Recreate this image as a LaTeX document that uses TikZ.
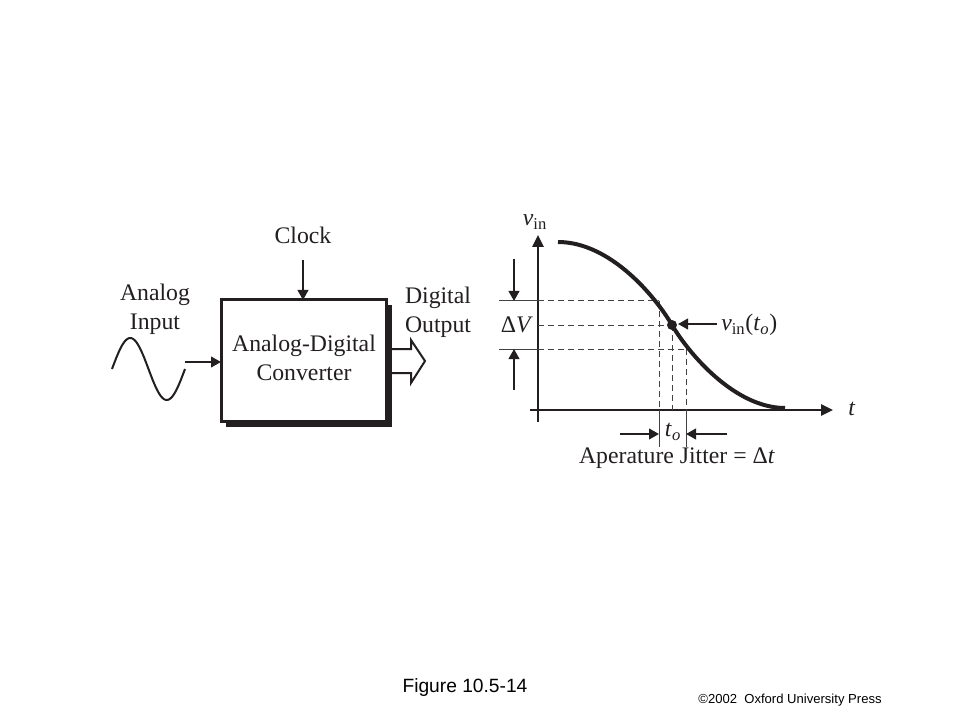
\documentclass[tikz,border=0pt]{standalone}
\usepackage{fontspec}
\setmainfont{Liberation Serif}
\newfontfamily\arialfont{Liberation Sans}
\usetikzlibrary{arrows.meta,positioning,calc}
\definecolor{ink}{RGB}{35,31,32}
\tikzset{
  lbl/.style={font=\fontsize{17.8}{21.5}\selectfont,text=ink,align=center,inner sep=0pt},
  sig/.style={line width=1.5pt,draw=ink,-{Triangle[length=7.5pt,width=8pt]}},
  axis/.style={line width=1.5pt,draw=ink,-{Triangle[length=9pt,width=8.5pt]}},
  guide/.style={line width=0.75pt,draw=ink!85,dash pattern=on 4.5pt off 3pt},
  tick/.style={line width=0.75pt,draw=ink!85},
}

\begin{document}
\begin{tikzpicture}[x=0.75pt,y=-0.75pt,line join=miter]
    \fill[white] (0,0) rectangle (960,720);
    \useasboundingbox (0,0) rectangle (960,720);

        % --- Variables ---
        \coordinate (adc_nw) at (221,300);
        \coordinate (adc_se) at (386,421);
        \coordinate (clock_in) at (303,260);
        \coordinate (adc_top) at (303,300);
        \coordinate (sine_end) at (185,362);
        \coordinate (adc_left) at (221,362);

        % Converter block with its shadow
        \fill[ink] ($(adc_nw)+(5,5)$) rectangle ($(adc_se)+(6,6)$);
        \draw[line width=2.25pt,draw=ink,fill=white] (adc_nw) rectangle (adc_se);
        \node[lbl] (adc) at (304,358) {Analog-Digital\\Converter};

        % Clock input
        \node[lbl] (clock) at (303,235) {Clock};
        \draw[sig] (clock_in) -- (adc_top);

        % Analog input
        \node[lbl] (ain) at (155,309) {Analog\\Input};
        \draw[line width=1.5pt,ink] plot[domain=0:360,samples=60] ({112+\x/360*73},{369-31*sin(\x)});
        \draw[sig] (sine_end) -- (adc_left);

        % Digital output (hollow arrow)
        \node[lbl] (dout) at (438,312) {Digital\\Output};
        \draw[line width=1.5pt,ink] (392,349) -- (411,349) -- (411,340) -- (425,361)
            -- (411,383) -- (411,373) -- (392,373);

        % --- Graph ---
        \coordinate (vaxis_bot) at (538,422);
        \coordinate (vaxis_top) at (538,235);
        \coordinate (taxis_left) at (530,410);
        \coordinate (taxis_right) at (833,410);
        \coordinate (vpt) at (672,325);

        \draw[axis] (vaxis_bot) -- (vaxis_top);
        \draw[axis] (taxis_left) -- (taxis_right);
        \node[lbl] (vin) at (535,222) {\textit{v}\textsubscript{in}};
        \node[lbl] (tlab) at (852,409) {\textit{t}};

        % Guide lines
        \coordinate (vhi) at (659,301);
        \coordinate (vlo) at (686,349);
        \draw[tick] (499,301) -- (538,301);
        \draw[tick] (499,349) -- (538,349);
        \draw[guide] (538,301) -- (vhi);
        \draw[guide] (538,325) -- (vpt);
        \draw[guide] (538,349) -- (vlo);
        \draw[guide] (vhi) -- (659,410);
        \draw[guide] (vpt) -- (672,410);
        \draw[guide] (vlo) -- (686,410);
        \draw[tick] (659,410) -- (659,447);
        \draw[tick] (686,410) -- (686,447);

        % Input signal
        \draw[line width=3pt,ink,line cap=butt] (558,242) .. controls (610,242) and (655,296) .. (vpt)
            .. controls (689,354) and (735,408) .. (785,408);
        \fill[ink] (vpt) circle (3.75pt);

        % Delta V arrows
        \draw[sig] (514,259) -- (514,301);
        \draw[sig] (514,390) -- (514,349);
        \node[lbl] (dv) at (517,325) {Δ\textit{V}};

        % label at sample point
        \coordinate (vpt_lab) at (717,324);
        \draw[sig] (vpt_lab) -- (678,324);
        \node[lbl,anchor=west] (vinto) at (721,325) {\textit{v}\textsubscript{in}(\textit{t}\textsubscript{\textit{o}})};

        % Aperture jitter
        \draw[sig] (620,434) -- (659,434);
        \draw[sig] (727,434) -- (686,434);
        \node[lbl] (to) at (673,432) {\textit{t}\textsubscript{\textit{o}}};
        \node[lbl] (jitter) at (677,458) {Aperature Jitter = Δ\textit{t}};

        % caption
        \node[font=\arialfont\fontsize{14.4}{17}\selectfont] (fig) at (465,688) {Figure 10.5-14};
        \node[font=\arialfont\fontsize{9.8}{12}\selectfont] (press) at (790,700) {©2002~ Oxford University Press};

\end{tikzpicture}
\end{document}
